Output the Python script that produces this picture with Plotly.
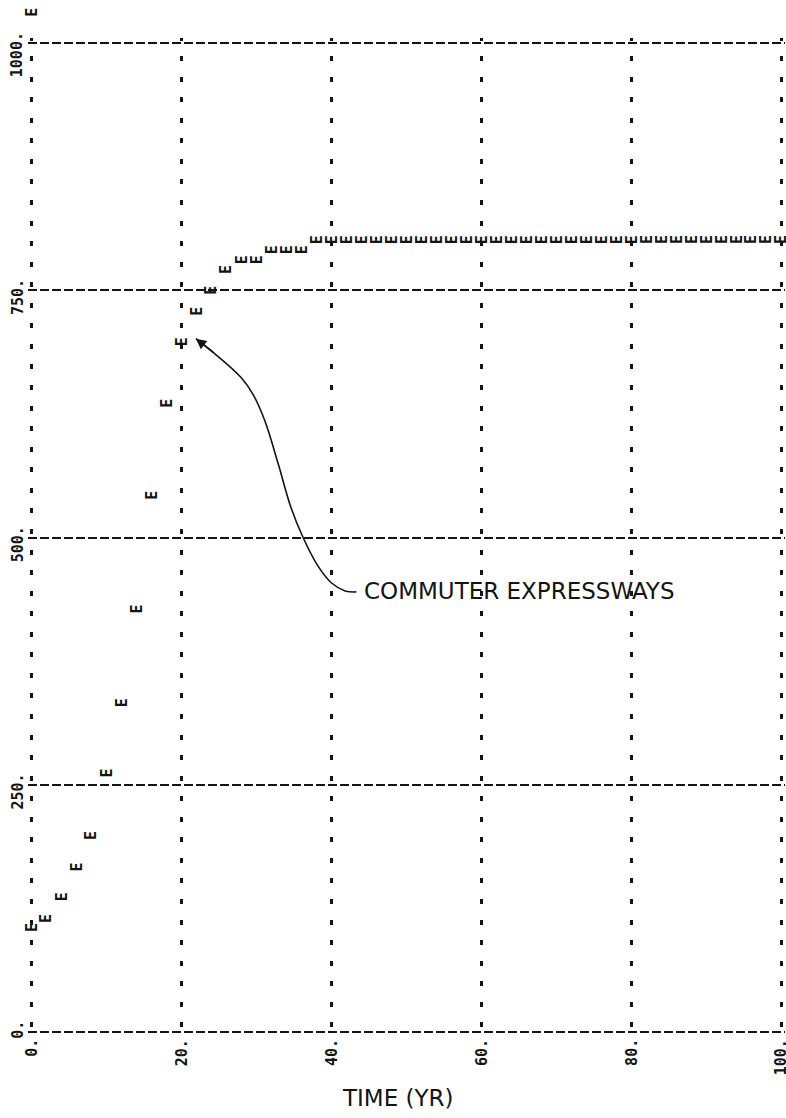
import plotly.graph_objects as go

# ---- data ----
TIME_YR = [0, 2, 4, 6, 8, 10, 12, 14, 16, 18, 20, 22, 24, 26, 28, 30, 32, 34, 36, 38,
           40, 42, 44, 46, 48, 50, 52, 54, 56, 58, 60, 62, 64, 66, 68, 70, 72, 74, 76,
           78, 80, 82, 84, 86, 88, 90, 92, 94, 96, 98, 100]
EXPRESSWAYS = [106, 115, 137, 167, 199, 262, 333, 428, 543, 636, 698, 729, 750, 771,
               781, 781, 791, 791, 791, 801, 801, 801, 801, 801, 801, 801, 801, 801,
               801, 801, 801, 801, 801, 801, 801, 801, 801, 801, 801, 801, 801, 801,
               801, 801, 801, 801, 801, 801, 801, 801, 801]
SERIES_SYMBOL = "E"

X_TICKS = [0, 20, 40, 60, 80, 100]
X_TICK_TEXT = ["0.", "20.", "40.", "60.", "80.", "100."]
Y_TICKS = [0, 250, 500, 750, 1000]
Y_TICK_TEXT = ["0.", "250.", "500.", "750.", "1000."]

X_TITLE = "TIME (YR)"
LABEL_TEXT = "COMMUTER EXPRESSWAYS"
LABEL_POS = (44.0, 446)
# hand-drawn pointer from the label to the curve (data coordinates)
POINTER_X = [43.3, 41.8, 40.0, 38.2, 36.2, 34.6, 32.9, 31.1, 29.5, 27.9, 24.4, 21.9]
POINTER_Y = [445, 446, 454, 471, 500, 530, 574, 618, 645, 662, 686, 701]

INK = "#141414"
MONO = "DejaVu Sans Mono"

fig = go.Figure()

# carrier trace (the printed symbols are drawn as rotated annotations below)
fig.add_trace(go.Scatter(x=TIME_YR, y=EXPRESSWAYS, mode="markers",
                         marker=dict(size=8, color="rgba(0,0,0,0)"),
                         name="E", showlegend=False, hoverinfo="x+y"))

# pointer curve
fig.add_trace(go.Scatter(x=POINTER_X, y=POINTER_Y, mode="lines",
                         line=dict(color=INK, width=1.6, shape="spline", smoothing=1.0),
                         showlegend=False, hoverinfo="skip"))

annotations = []
for xv, yv in zip(TIME_YR, EXPRESSWAYS):
    annotations.append(dict(x=xv, y=yv, xref="x", yref="y", text=f"<b>{SERIES_SYMBOL}</b>",
                            showarrow=False, textangle=-90,
                            font=dict(family=MONO, size=15, color=INK),
                            xanchor="center", yanchor="middle"))

for v, t in zip(Y_TICKS, Y_TICK_TEXT):
    annotations.append(dict(x=X_TICKS[0], y=v, xref="x", yref="y", text=f"<b>{t}</b>",
                            showarrow=False, textangle=-90, xshift=-14, yshift=13,
                            font=dict(family=MONO, size=15, color=INK),
                            xanchor="center", yanchor="top"))

for v, t in zip(X_TICKS, X_TICK_TEXT):
    annotations.append(dict(x=v, y=Y_TICKS[0], xref="x", yref="y", text=f"<b>{t}</b>",
                            showarrow=False, textangle=-90, yshift=-5,
                            font=dict(family=MONO, size=15, color=INK),
                            xanchor="center", yanchor="top"))

# series letter above the y axis
annotations.append(dict(x=X_TICKS[0], y=Y_TICKS[-1], xref="x", yref="y",
                        text=f"<b>{SERIES_SYMBOL}</b>", showarrow=False, textangle=-90,
                        yshift=31, font=dict(family=MONO, size=15, color=INK),
                        xanchor="center", yanchor="middle"))

# x axis title
annotations.append(dict(x=50, y=Y_TICKS[0], xref="x", yref="y", text=X_TITLE,
                        showarrow=False, xshift=-9, yshift=-66,
                        font=dict(family="DejaVu Sans", size=23, color=INK),
                        xanchor="center", yanchor="middle"))

# hand-written label
annotations.append(dict(x=LABEL_POS[0], y=LABEL_POS[1], xref="x", yref="y",
                        text=LABEL_TEXT, showarrow=False,
                        font=dict(family="DejaVu Sans", size=23, color=INK),
                        xanchor="left", yanchor="middle"))

# arrow head at the end of the pointer
annotations.append(dict(x=POINTER_X[-1], y=POINTER_Y[-1], ax=POINTER_X[-2], ay=POINTER_Y[-2],
                        xref="x", yref="y", axref="x", ayref="y", text="",
                        showarrow=True, arrowhead=2, arrowsize=1.3, arrowwidth=1.6,
                        arrowcolor=INK))

fig.update_layout(
    width=786, height=1118,
    margin=dict(l=28, r=1, t=38, b=81),
    paper_bgcolor="white", plot_bgcolor="white",
    showlegend=False,
    annotations=annotations,
    xaxis=dict(range=[-0.5, 100.5], tickvals=X_TICKS, showticklabels=False,
               showgrid=True, gridcolor=INK, gridwidth=2.6,
               griddash="2.5px,15.56px,2.5px,0px",
               zeroline=False, showline=False, ticks=""),
    yaxis=dict(range=[-5, 1005], tickvals=Y_TICKS, showticklabels=False,
               showgrid=True, gridcolor=INK, gridwidth=1.8,
               griddash="9px,3px",
               zeroline=False, showline=False, ticks=""),
)

# remove the default page margin so the figure fills the window exactly
fig.write_html("out.html",
               config={"displayModeBar": False},
               post_script="document.body.style.margin='0px';document.body.style.overflow='hidden';")
